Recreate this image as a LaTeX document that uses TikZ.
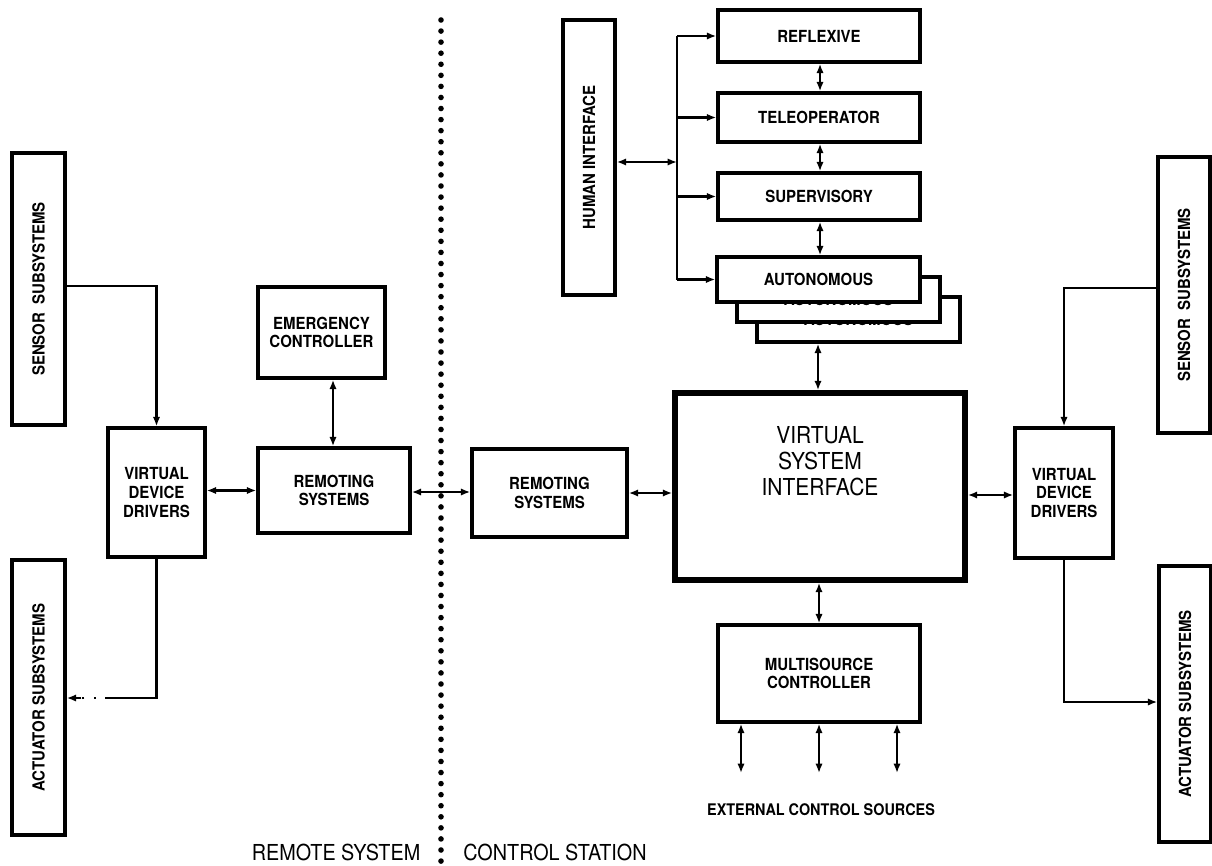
\documentclass[tikz,border=0pt]{standalone}
\usepackage{fontspec}
\setmainfont{TeX Gyre Heros}[FakeStretch=0.9]
\usetikzlibrary{arrows.meta}

\begin{document}
\begin{tikzpicture}[x=0.75pt,y=-0.75pt,
  >={Latex[length=7pt,width=5.5pt]},
  sz/.style 2 args={minimum width=#1*0.75pt,minimum height=#2*0.75pt},
  blk/.style={draw,line width=2.6pt,fill=white,inner sep=1pt,align=center,
              font=\bfseries\fontsize{12.5}{14}\selectfont},
  bigblk/.style={draw,line width=4.2pt,fill=white,inner sep=1pt},
  conn/.style={line width=2pt},
  bi/.style={conn,<->},
  uni/.style={conn,->},
  lbl/.style={inner sep=0pt,align=center},
  divider/.style={line width=4.2pt,line cap=round,dash pattern=on 0pt off 8.3pt}]

\useasboundingbox (0,0) rectangle (1212,866);

% ---- remote side
\node[blk,sz={272}{53},rotate=90] (sensL) at (38.5,289) {SENSOR\ \ SUBSYSTEMS};
\node[blk,sz={275}{53},rotate=90] (actL)  at (38.5,697.5) {ACTUATOR SUBSYSTEMS};
\node[blk,sz={97}{129}]  (vddL)  at (156.5,492.5) {VIRTUAL\\DEVICE\\DRIVERS};
\node[blk,sz={127}{91}]  (emerg) at (321.5,332.5) {EMERGENCY\\CONTROLLER};
\node[blk,sz={152}{85}]  (remL)  at (334,490.5) {REMOTING\\SYSTEMS};

% ---- control station
\node[blk,sz={155}{88}]  (remR)  at (549.5,493) {REMOTING\\SYSTEMS};
\node[bigblk,sz={290}{187}] (vsi) at (820,486.5) {};
\node[lbl,font=\fontsize{17.5}{19.5}\selectfont] (vsitext) at (820,461) {VIRTUAL\\SYSTEM\\INTERFACE};
\node[blk,sz={98}{130}]  (vddR)  at (1064,493) {VIRTUAL\\DEVICE\\DRIVERS};
\node[blk,sz={276}{52},rotate=90] (sensR) at (1184,295) {SENSOR\ \ SUBSYSTEMS};
\node[blk,sz={276}{52},rotate=90] (actR)  at (1185,704) {ACTUATOR SUBSYSTEMS};
\node[blk,sz={202}{97}]  (msc)   at (819,673.5) {MULTISOURCE\\CONTROLLER};

\node[blk,sz={275}{52},rotate=90] (hi) at (589,157.5) {HUMAN INTERFACE};
\node[blk,sz={202}{52}] (refl) at (819,36) {REFLEXIVE};
\node[blk,sz={202}{49}] (tele) at (819,117.5) {TELEOPERATOR};
\node[blk,sz={202}{47}] (sup)  at (819,196.5) {SUPERVISORY};
% stacked autonomous controllers, back to front
\node[blk,sz={203}{45}] (aut3) at (858.5,319.5) {AUTONOMOUS};
\node[blk,sz={203}{45}] (aut2) at (838.5,299.5) {AUTONOMOUS};
\node[blk,sz={203}{45}] (aut1) at (818.5,279.5) {AUTONOMOUS};

% ---- free ends of connectors
\coordinate (actBend) at (107,698);
\coordinate (bus) at (677,162);
\coordinate (busTop) at (677,36);
\coordinate (busBot) at (677,279.5);
\coordinate (ext1) at (741,773);
\coordinate (ext2) at (819,773);
\coordinate (ext3) at (897,773);

% ---- remote side connectors
\draw[uni] (sensL.south |- 0,286) -| (vddL.north);
\draw[conn] (vddL.south) |- (actBend);
\draw[conn,dash pattern=on 1.5pt off 7pt] (actBend) -- (80,698);
\draw[uni,shorten <=-1pt] (80,698) -- (actL.south |- actBend);
\draw[bi] (vddL.east |- remL.west) -- (remL.west);
\draw[bi] (emerg.south -| 333,0) -- (remL.north -| 333,0);
\draw[bi] (remL.east |- 0,492) -- (remR.west |- 0,492);

% ---- control station connectors
\draw[bi] (remR.east) -- (vsi.west |- remR.east);
\draw[bi] (vsi.east |- 0,495) -- (vddR.west |- 0,495);
\draw[uni] (sensR.north |- 0,288) -| (vddR.north);
\draw[uni] (vddR.south) |- (actR.north |- 0,702);
\draw[bi] (vsi.south -| msc.north) -- (msc.north);
\draw[bi] (msc.south -| ext1) -- (ext1);
\draw[bi] (msc.south -| ext2) -- (ext2);
\draw[bi] (msc.south -| ext3) -- (ext3);
\draw[bi] (aut3.south -| 818,0) -- (vsi.north -| 818,0);

\draw[bi] (refl.south -| 820,0) -- (tele.north -| 820,0);
\draw[bi] (tele.south -| 820,0) -- (sup.north -| 820,0);
\draw[bi] (sup.south -| 820,0) -- (aut1.north -| 820,0);

\draw[bi] (hi.south |- bus) -- (bus);
\draw[conn] (busTop) -- (busBot);
\draw[uni] (busTop) -- (refl.west);
\draw[uni] (busTop |- tele.west) -- (tele.west);
\draw[uni] (busTop |- sup.west) -- (sup.west);
\draw[uni] (busBot) -- (aut1.west);

% ---- boundary between the two sites
\draw[divider] (441,20) -- (441,864);
\node[lbl,font=\fontsize{16.5}{18}\selectfont] (remote) at (336,852) {REMOTE SYSTEM};
\node[lbl,font=\fontsize{16.5}{18}\selectfont] (station) at (555,852) {CONTROL STATION};
\node[lbl,font=\bfseries\fontsize{12}{14}\selectfont] (extsrc) at (821,810) {EXTERNAL CONTROL SOURCES};

\end{tikzpicture}
\end{document}
